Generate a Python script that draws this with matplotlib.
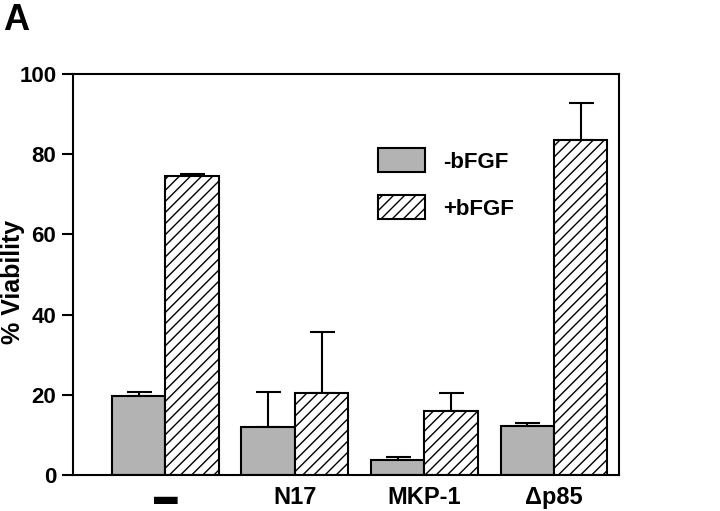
import matplotlib
matplotlib.use('Agg')
import matplotlib.pyplot as plt
import numpy as np

# 数据
groups = ['\u25ac', 'N17', 'MKP-1', '\u0394p85']
minus_bfgf = [19.7, 11.9, 3.7, 12.3]
minus_err = [1.0, 8.8, 0.9, 0.7]
plus_bfgf = [74.6, 20.4, 16.0, 83.5]
plus_err = [0.4, 15.3, 4.4, 9.2]
yticks = [0, 20, 40, 60, 80, 100]

plt.rcParams['font.family'] = ['Liberation Sans', 'DejaVu Sans']
plt.rcParams['font.weight'] = 'bold'
plt.rcParams['hatch.linewidth'] = 1.0

fig = plt.figure(figsize=(7.2, 5.11), dpi=100)
ax = fig.add_axes([73 / 720, 36 / 511, 546 / 720, 401 / 511])

x = np.arange(len(groups))
w = 0.413
ax.bar(x - w / 2, minus_bfgf, w, color='#b3b3b3', edgecolor='black', lw=1.5,
       label='-bFGF', zorder=2)
ax.bar(x + w / 2, plus_bfgf, w, color='white', edgecolor='black', lw=1.5,
       hatch='///', label='+bFGF', zorder=2)
ax.errorbar(x - w / 2, minus_bfgf, yerr=[np.zeros(4), minus_err], fmt='none',
            ecolor='black', elinewidth=1.5, capsize=9, capthick=1.5, zorder=1)
ax.errorbar(x + w / 2, plus_bfgf, yerr=[np.zeros(4), plus_err], fmt='none',
            ecolor='black', elinewidth=1.5, capsize=9, capthick=1.5, zorder=1)

ax.set_xlim(-0.714, 3.502)
ax.set_ylim(0, 100)
ax.set_yticks(yticks)
ax.set_xticks(x)
ax.set_xticklabels(groups, fontsize=17, fontweight='bold')
ax.tick_params(axis='y', direction='out', length=8, width=1.5, labelsize=16, pad=4)
ax.tick_params(axis='x', length=0, pad=8)
for s in ax.spines.values():
    s.set_linewidth(1.5)
ax.set_ylabel('% Viability', fontsize=18, fontweight='bold')
ax.yaxis.set_label_coords(-0.088, 0.482)

ax.legend(loc='upper left', bbox_to_anchor=(0.559, 0.815), frameon=False,
          fontsize=16, handlelength=2.1, handleheight=1.3, labelspacing=1.0,
          borderpad=0, borderaxespad=0, handletextpad=0.8)

fig.text(3 / 720, 1 - 3 / 511, 'A', fontsize=26, fontweight='bold', va='top', ha='left')

fig.savefig('out.png', dpi=100)
